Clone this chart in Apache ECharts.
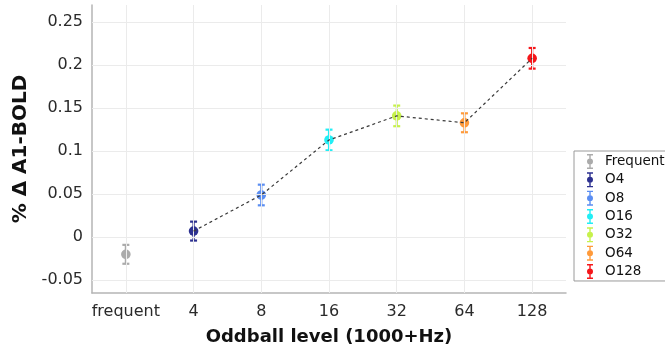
<!DOCTYPE html>
<html>
<head>
<meta charset="utf-8">
<script src="https://cdn.jsdelivr.net/npm/echarts@6/dist/echarts.min.js"></script>
<style>
html,body{margin:0;padding:0;background:#fff;}
#chart{width:665px;height:351px;}
</style>
</head>
<body>
<div id="chart"></div>
<script>
// ---- data ----
const categories = ['frequent', '4', '8', '16', '32', '64', '128'];
const seriesNames = ['Frequent', 'O4', 'O8', 'O16', 'O32', 'O64', 'O128'];
const meanValues = [-0.020, 0.007, 0.049, 0.113, 0.141, 0.133, 0.208];
const errorValues = [0.011, 0.011, 0.012, 0.012, 0.012, 0.011, 0.012];
const yTickValues = [-0.05, 0, 0.05, 0.1, 0.15, 0.2, 0.25];
const yTickLabels = ['-0.05', '0', '0.05', '0.1', '0.15', '0.2', '0.25'];
const colors = ['#ababab', '#2d3190', '#5b8ef2', '#22eef5', '#c6f14c', '#ff9a3a', '#f5161a'];

// ---- chart ----
const chart = echarts.init(document.getElementById('chart'), null, {renderer: 'canvas'});
const FONT = 'DejaVu Sans';
const iconPath = 'path://M0,0H60V14H37V136H60V150H0V136H23V14H0Z M30,45A30,30 0 1,1 30,105A30,30 0 1,1 30,45Z';

const series = [];
series.push({
  type: 'scatter', name: '__grid', data: [], z: 1, silent: true,
  markLine: {
    silent: true, symbol: ['none', 'none'], animation: false,
    label: {show: false},
    lineStyle: {color: '#ebebeb', width: 1, type: 'solid'},
    emphasis: {disabled: true},
    data: yTickValues.map(v => ({yAxis: v})).concat(categories.map(c => ({xAxis: c})))
  }
});

seriesNames.forEach((name, i) => {
  series.push({
    type: 'custom', name: name, z: 3,
    itemStyle: {color: colors[i]},
    encode: {x: 0, y: 1},
    data: [[i, meanValues[i], errorValues[i]]],
    renderItem: function (params, api) {
      const c = api.coord([api.value(0), api.value(1)]);
      const hi = api.coord([api.value(0), api.value(1) + api.value(2)]);
      const lo = api.coord([api.value(0), api.value(1) - api.value(2)]);
      const col = api.visual('color');
      const hw = 3.5;
      const st = {stroke: col, lineWidth: 2.2};
      return {
        type: 'group',
        children: [
          {type: 'line', shape: {x1: c[0], y1: hi[1], x2: c[0], y2: lo[1]}, style: st},
          {type: 'line', shape: {x1: c[0] - hw, y1: hi[1], x2: c[0] + hw, y2: hi[1]}, style: st},
          {type: 'line', shape: {x1: c[0] - hw, y1: lo[1], x2: c[0] + hw, y2: lo[1]}, style: st},
          {type: 'circle', shape: {cx: c[0], cy: c[1], r: 4.8}, style: {fill: col}}
        ]
      };
    }
  });
});

series.push({
  type: 'line', name: '__trend', z: 5, silent: true,
  data: meanValues.map((v, i) => i === 0 ? null : v),
  symbol: 'none',
  lineStyle: {color: '#3a3a3a', width: 1.2, type: [3, 3]},
  animation: false
});

const option = {
  animation: false,
  backgroundColor: '#ffffff',
  grid: {left: 92, right: 99, top: 5, bottom: 58, containLabel: false, outerBoundsMode: 'none'},
  xAxis: {
    type: 'category',
    data: categories,
    boundaryGap: true,
    name: 'Oddball level (1000+Hz)',
    nameLocation: 'middle',
    nameGap: 35,
    nameTextStyle: {fontFamily: FONT, fontWeight: 'bold', fontSize: 18, color: '#111'},
    axisLine: {show: true, onZero: false, lineStyle: {color: '#b5b5b5', width: 1.5}},
    axisTick: {show: true, inside: true, alignWithLabel: true, length: 5, lineStyle: {color: '#b5b5b5'}},
    axisLabel: {fontFamily: FONT, fontSize: 16, color: '#2a2a2a', margin: 11, interval: 0, hideOverlap: false},
    splitLine: {show: false}
  },
  yAxis: {
    type: 'value',
    min: -0.065,
    max: 0.27,
    name: '% \u0394 A1-BOLD',
    nameLocation: 'middle',
    nameRotate: 90,
    nameGap: 59,
    nameTextStyle: {fontFamily: FONT, fontWeight: 'bold', fontSize: 20, color: '#111'},
    axisLine: {show: true, onZero: false, lineStyle: {color: '#b5b5b5', width: 1.5}},
    axisTick: {show: true, inside: true, length: 5, customValues: yTickValues, lineStyle: {color: '#b5b5b5'}},
    axisLabel: {
      fontFamily: FONT, fontSize: 16, color: '#2a2a2a', margin: 9,
      customValues: yTickValues,
      formatter: function (v) {
        let best = 0;
        yTickValues.forEach((t, k) => { if (Math.abs(t - v) < Math.abs(yTickValues[best] - v)) best = k; });
        return yTickLabels[best];
      }
    },
    splitLine: {show: false}
  },
  legend: {
    orient: 'vertical',
    left: 574,
    top: 151,
    data: seriesNames.map(n => ({name: n, icon: iconPath})),
    itemWidth: 6,
    itemHeight: 15,
    itemGap: 3.33,
    padding: [3, 12, 2, 13],
    borderColor: '#9a9a9a',
    borderWidth: 1,
    backgroundColor: '#ffffff',
    selectedMode: false,
    textStyle: {fontFamily: FONT, fontSize: 13.5, color: '#111', padding: [0, 0, 0, 7]}
  },
  series: series
};
chart.setOption(option);
</script>
</body>
</html>
